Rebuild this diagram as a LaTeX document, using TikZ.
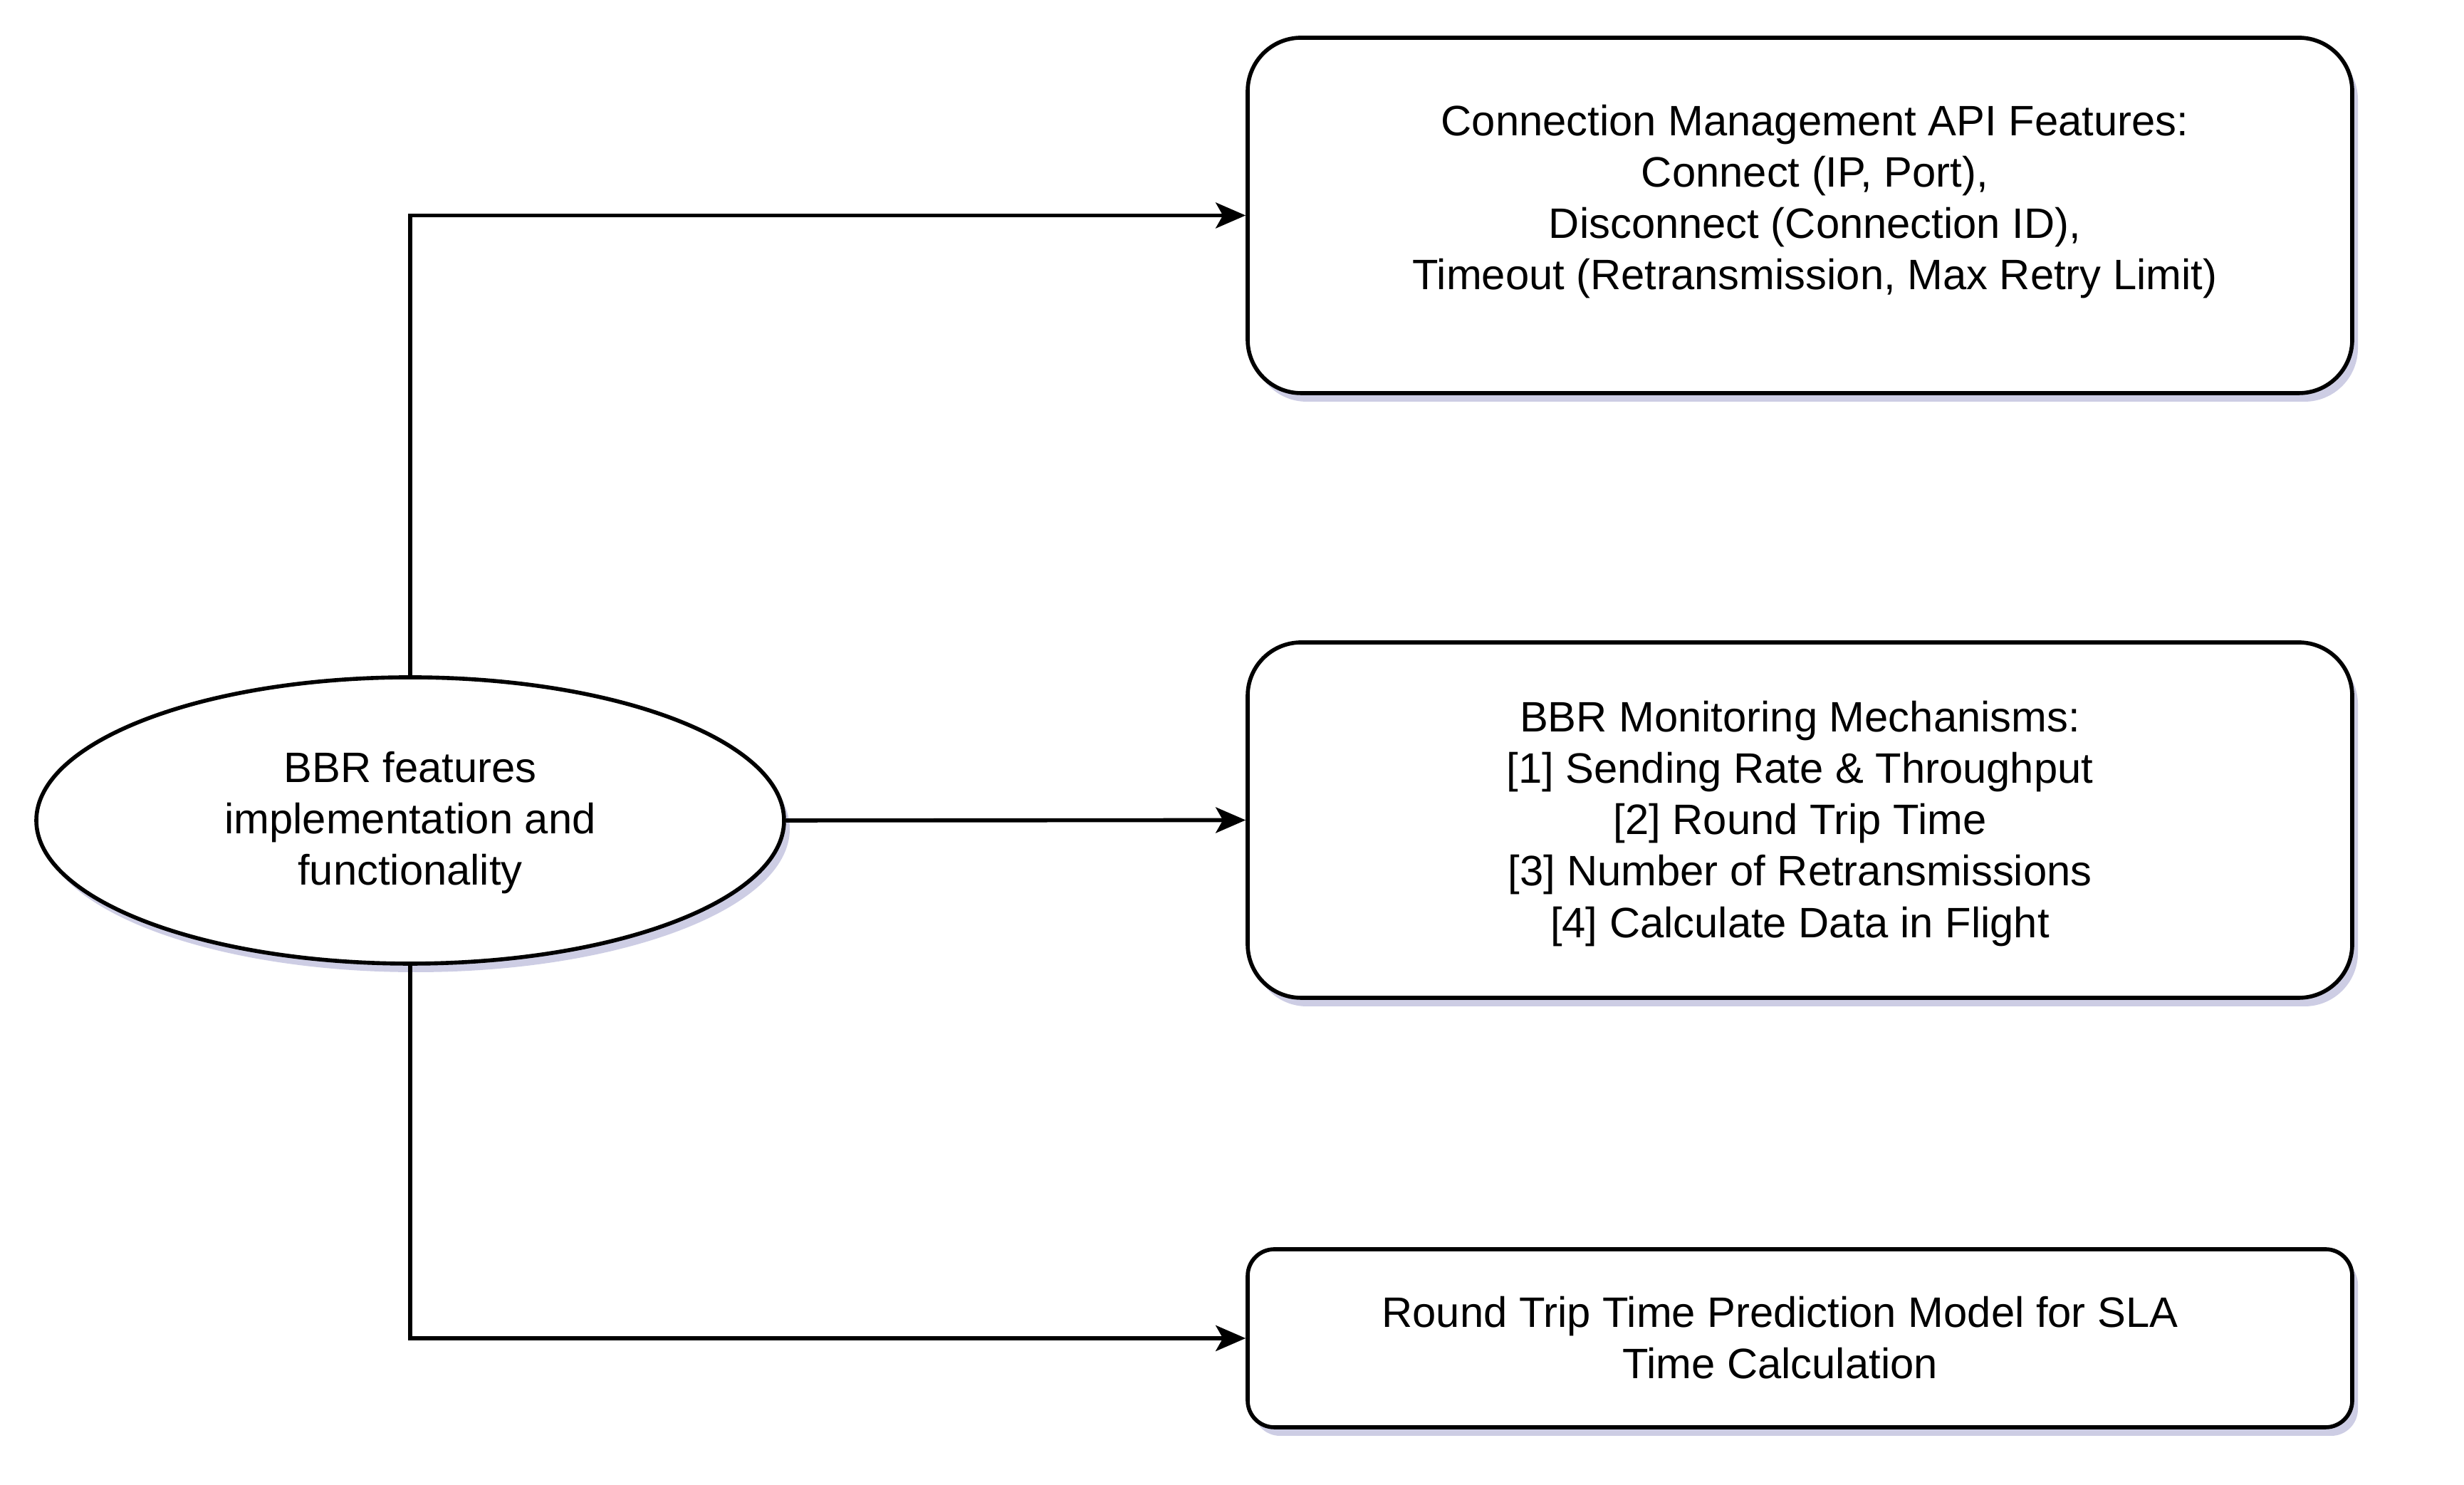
\documentclass[tikz,border=0pt]{standalone}
\usepackage{fontspec}
\setmainfont{Liberation Sans}
\usetikzlibrary{arrows.meta,shadows,shapes.geometric}
\begin{document}
\begin{tikzpicture}[
  font=\fontsize{17}{20.5}\selectfont,
  shad/.style={drop shadow={shadow xshift=0.08cm,shadow yshift=-0.12cm,fill=blue!30!gray,opacity=0.3}},
  boxbig/.style={draw=black,line width=1.6pt,fill=white,rounded corners=0.75cm,minimum width=15.51cm,minimum height=4.99cm,shad,align=center,inner sep=0pt},
  boxsmall/.style={draw=black,line width=1.6pt,fill=white,rounded corners=0.375cm,minimum width=15.51cm,minimum height=2.5cm,shad,align=center,inner sep=0pt},
  ell/.style={ellipse,draw=black,line width=1.6pt,fill=white,minimum width=10.5cm,minimum height=4.02cm,shad,align=center,inner sep=0pt},
  conn/.style={line width=1.6pt,-{Stealth[length=0.42cm,width=0.36cm,inset=0.1cm]}}
]
\useasboundingbox (0,0) rectangle (34.6,20.85);
\node[ell,label={[align=center,yshift=-0.03cm]center:BBR features\\implementation and\\functionality}] (src) at (5.76,9.33) {};
\node[boxbig,label={[align=center,xshift=0.21cm,yshift=0.19cm]center:Connection Management API Features:\\Connect (IP, Port),\\Disconnect (Connection ID),\\Timeout (Retransmission, Max Retry Limit)}] (b1) at (25.275,17.825) {};
\node[boxbig,label={[align=center,yshift=-0.05cm]center:BBR Monitoring Mechanisms:\\{[1]} Sending Rate \& Throughput\\{[2]} Round Trip Time\\{[3]} Number of Retransmissions\\{[4]} Calculate Data in Flight}] (b2) at (25.275,9.335) {};
\node[boxsmall,label={[align=center,xshift=-0.28cm,yshift=0.01cm]center:Round Trip Time Prediction Model for SLA\\Time Calculation}] (b3) at (25.275,2.06) {};
\draw[conn] (src.north) |- (b1.west);
\draw[conn] (src.east) -- (b2.west);
\draw[conn] (src.south) |- (b3.west);
\end{tikzpicture}
\end{document}
